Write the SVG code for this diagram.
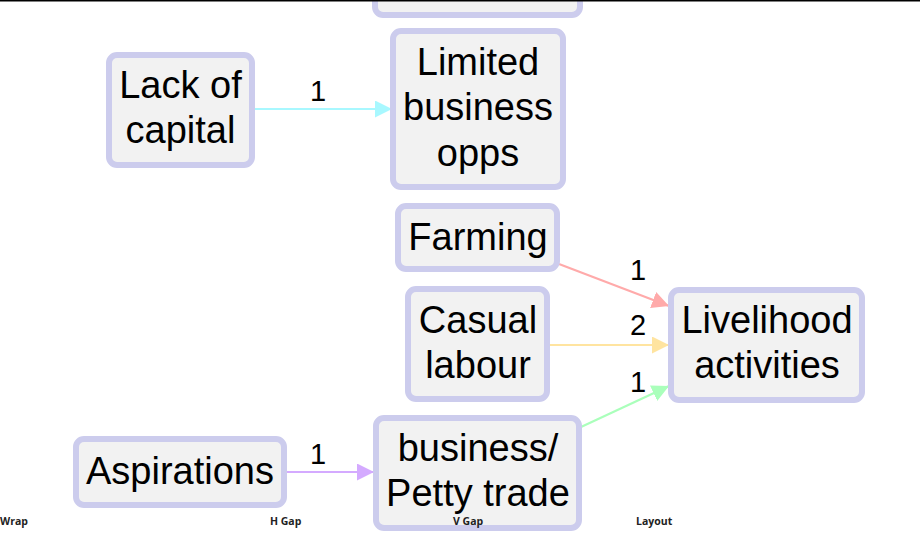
<svg xmlns="http://www.w3.org/2000/svg" width="920" height="539" viewBox="0 0 920 539">
<style>
.n rect{fill:#f2f2f2;stroke:#cccced;stroke-width:6}
.n text{font-family:"Liberation Sans",Arial,sans-serif;font-size:38px;fill:#000;text-anchor:middle}
.e path{fill:none;stroke-width:2.2}
.lbl{font-family:"Liberation Sans",Arial,sans-serif;font-size:29px;fill:#000;text-anchor:middle}
.ui{font-family:"Open Sans","DejaVu Sans",sans-serif;font-size:10.5px;font-weight:bold;fill:#222}
</style>
<defs>
<marker id="mc" viewBox="0 0 10 10" refX="10" refY="5" markerWidth="17" markerHeight="17" markerUnits="userSpaceOnUse" orient="auto"><path d="M0,0L10,5L0,10z" fill="#a8f8ff"/></marker>
<marker id="mr" viewBox="0 0 10 10" refX="10" refY="5" markerWidth="17" markerHeight="17" markerUnits="userSpaceOnUse" orient="auto"><path d="M0,0L10,5L0,10z" fill="#ffaaaa"/></marker>
<marker id="my" viewBox="0 0 10 10" refX="10" refY="5" markerWidth="17" markerHeight="17" markerUnits="userSpaceOnUse" orient="auto"><path d="M0,0L10,5L0,10z" fill="#ffe4a0"/></marker>
<marker id="mg" viewBox="0 0 10 10" refX="10" refY="5" markerWidth="17" markerHeight="17" markerUnits="userSpaceOnUse" orient="auto"><path d="M0,0L10,5L0,10z" fill="#aaffbb"/></marker>
<marker id="mp" viewBox="0 0 10 10" refX="10" refY="5" markerWidth="17" markerHeight="17" markerUnits="userSpaceOnUse" orient="auto"><path d="M0,0L10,5L0,10z" fill="#d4aaff"/></marker>
</defs>
<rect width="920" height="539" fill="#fff"/>
<g id="edges" class="e">
<path d="M254,109L392,109" stroke="#a8f8ff" marker-end="url(#mc)"/>
<path d="M559,264L669,306" stroke="#ffaaaa" marker-end="url(#mr)"/>
<path d="M549,345L669,345" stroke="#ffe4a0" marker-end="url(#my)"/>
<path d="M581,427L669,386" stroke="#aaffbb" marker-end="url(#mg)"/>
<path d="M286,472L374,472" stroke="#d4aaff" marker-end="url(#mp)"/>
<text class="lbl" x="318" y="101">1</text>
<text class="lbl" x="638" y="280">1</text>
<text class="lbl" x="638" y="335">2</text>
<text class="lbl" x="638" y="392">1</text>
<text class="lbl" x="318" y="464">1</text>
</g>
<g id="n-top" class="n"><rect x="375" y="-40" width="205" height="55" rx="8"/></g>
<g id="n-lack" class="n"><rect x="109" y="55" width="143" height="110" rx="8"/><text x="180.5" y="98">Lack of</text><text x="180.5" y="143">capital</text></g>
<g id="n-limited" class="n"><rect x="393" y="31" width="170" height="156" rx="8"/><text x="478" y="75">Limited</text><text x="478" y="120">business</text><text x="478" y="166">opps</text></g>
<g id="n-farming" class="n"><rect x="398" y="206" width="159" height="63" rx="8"/><text x="478" y="250">Farming</text></g>
<g id="n-casual" class="n"><rect x="408" y="289" width="139" height="110" rx="8"/><text x="478" y="333">Casual</text><text x="478" y="378">labour</text></g>
<g id="n-live" class="n"><rect x="671" y="290" width="191" height="110" rx="8"/><text x="767" y="333">Livelihood</text><text x="767" y="378">activities</text></g>
<g id="n-asp" class="n"><rect x="76" y="439" width="208" height="66" rx="8"/><text x="180" y="484">Aspirations</text></g>
<g id="n-biz" class="n"><rect x="376" y="418" width="203" height="110" rx="8"/><text x="478" y="461">business/</text><text x="478" y="506">Petty trade</text></g>
<rect x="0" y="0" width="920" height="1.5" fill="#000"/>
<text class="ui" x="0" y="525">Wrap</text>
<text class="ui" x="270" y="525">H Gap</text>
<text class="ui" x="453" y="525">V Gap</text>
<text class="ui" x="636" y="525">Layout</text>
</svg>
